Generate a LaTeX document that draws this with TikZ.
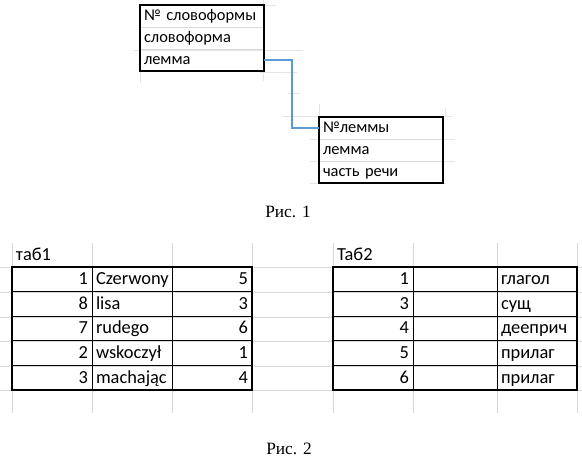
\documentclass[tikz,border=0pt]{standalone}
\usepackage{fontspec}
\setmainfont{Liberation Serif}
\newfontfamily\sheetfont{Carlito}
\usetikzlibrary{positioning}
\definecolor{linkblue}{RGB}{91,155,213}
\tikzset{
  fld/.style={anchor=north west, draw=gray!30, text width=87pt, align=left, inner xsep=3pt, inner ysep=0pt, outer sep=0pt, minimum height=16.5pt, text height=8.6pt, text depth=2.4pt, font=\sheetfont\fontsize{12.3}{14}\selectfont},
  cell/.style={anchor=north west, minimum height=18.45pt, inner xsep=3pt, inner ysep=0pt, outer sep=0pt, line width=0.75pt, text height=9.6pt, text depth=1.6pt, font=\sheetfont\fontsize{13.8}{16}\selectfont},
  numc/.style={cell, draw, text width=54pt, align=right},
  wordc/.style={cell, draw, text width=54pt, align=left},
  widec/.style={cell, draw, text width=57pt, align=left},
  hdr/.style={cell, text width=54pt, align=left},
  boxframe/.style={line width=1.2pt},
  tabframe/.style={line width=2pt},
  sheetgrid/.style={draw=gray!30, line width=0.75pt},
  faint/.style={draw=gray!20, line width=0.75pt},
  link/.style={draw=linkblue, line width=2pt},
  caption/.style={font=\fontsize{13}{15}\selectfont},
}
\begin{document}
\begin{tikzpicture}[x=0.75pt, y=-0.75pt]
  \useasboundingbox (0,0) rectangle (582,458);
  \draw[faint] (263,5) -- (276,5);
  \draw[faint] (133,50) -- (303,50);
  \draw[faint] (140,71) -- (140,83);
  \draw[faint] (263,0) -- (263,5);
  \draw[faint] (263,71) -- (263,81);
  \draw[faint] (260,72) -- (297,72);
  \draw[faint] (288,93) -- (300,93);
  \draw[faint] (283,116) -- (452,116);
  \draw[faint] (310,139) -- (455,139);
  \draw[faint] (310,161) -- (455,161);
  \draw[faint] (310,183) -- (446,183);
  \draw[faint] (319,104) -- (319,117);
  \draw[faint] (445,108) -- (445,117);
  \foreach \y in {267,292,317,341,366,390}
    \draw[sheetgrid] (0,\y) -- (582,\y);
  \foreach \x in {12,92,172,252,333,413,497,577}
    \draw[sheetgrid] (\x,243) -- (\x,413);

  \node[fld] (sf1) at (140,5) {№ словоформы};
  \node[fld] (sf2) at (140,27) {словоформа};
  \node[fld] (sf3) at (140,49) {лемма};
  \draw[boxframe] (sf1.north west) rectangle (sf3.south east);
  \node[fld] (lm1) at (319,117) {№леммы};
  \node[fld] (lm2) at (319,139) {лемма};
  \node[fld] (lm3) at (319,161) {часть речи};
  \draw[boxframe] (lm1.north west) rectangle (lm3.south east);
  \coordinate (bend) at (292,0);
  \draw[link] (sf3.east) -- (sf3.east -| bend) |- (lm1.west);
  \node[caption] (cap1) at (288,212) {Рис. 1};

  \node[hdr] (h1) at (12,243) {таб1};
  \foreach \a/\b/\c [count=\i from 0] in {1/Czerwony/5,8/lisa/3,7/rudego/6,2/wskoczył/1,3/machając/4}{
    \node[numc] (ta\i) at (12,{267+24.6*\i}) {\a};
    \node[wordc, right=0pt of ta\i] (tb\i) {\b};
    \node[numc, right=0pt of tb\i] (tc\i) {\c};
  }
  \draw[tabframe] (ta0.north west) rectangle (tc4.south east);

  \node[hdr] (h2) at (333,243) {Таб2};
  \foreach \a/\b [count=\i from 0] in {1/глагол,3/сущ,4/дееприч,5/прилаг,6/прилаг}{
    \node[numc] (ua\i) at (333,{267+24.6*\i}) {\a};
    \node[widec, right=0pt of ua\i] (ub\i) {};
    \node[wordc, right=0pt of ub\i] (uc\i) {\b};
  }
  \draw[tabframe] (ua0.north west) rectangle (uc4.south east);
  \node[caption] (cap2) at (289,449) {Рис. 2};
\end{tikzpicture}
\end{document}
